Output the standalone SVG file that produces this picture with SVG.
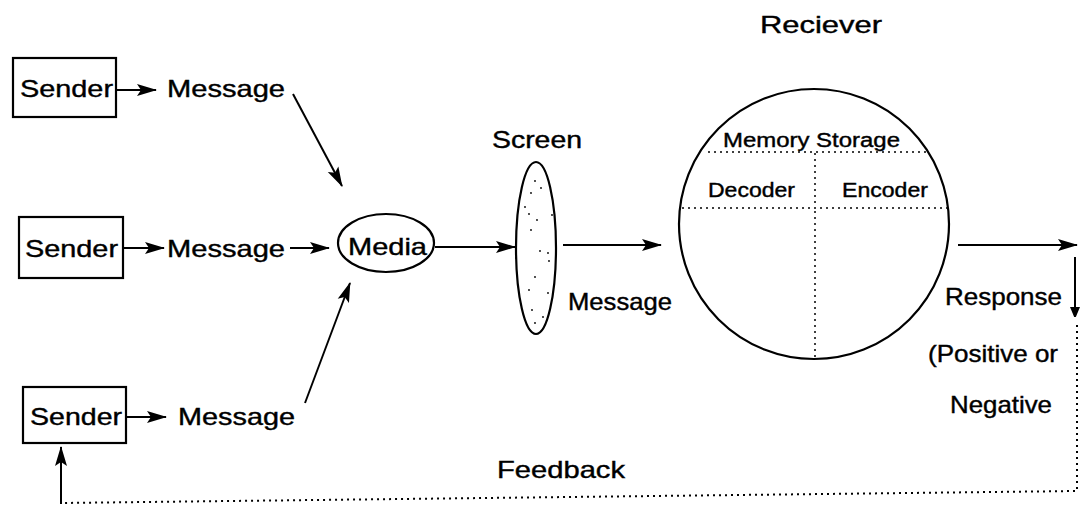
<svg xmlns="http://www.w3.org/2000/svg" width="1080" height="509" viewBox="0 0 1080 509">
<defs>
<style>
text{font-family:"Liberation Sans",Arial,sans-serif;fill:#000;stroke:#000;stroke-width:0.4}
.lbl{font-size:24px}
.sm{font-size:20px}
.box{fill:#fff;stroke:#000;stroke-width:2.2}
.ln{stroke:#000;stroke-width:2;fill:none}
.arr{stroke:#000;stroke-width:2;fill:none;marker-end:url(#ah)}
.dot{stroke:#000;stroke-width:2;fill:none;stroke-dasharray:2 4}
.dotf{stroke:#000;stroke-width:1.5;fill:none;stroke-dasharray:2 4}
</style>
<marker id="ah" markerUnits="userSpaceOnUse" markerWidth="20" markerHeight="14" refX="19" refY="7" orient="auto">
<path d="M0,1 L20,7 L0,13 L4,7 z" fill="#000"/>
</marker>
<marker id="ahs" markerUnits="userSpaceOnUse" markerWidth="10" markerHeight="14" refX="9" refY="5" orient="auto">
<path d="M0,0 L12,5 L0,10 z" fill="#000"/>
</marker>
</defs>
<g id="sender1">
<rect class="box" x="13" y="58" width="103" height="59"/>
<text class="lbl" x="20" y="97" textLength="93" lengthAdjust="spacingAndGlyphs">Sender</text>
</g>
<g id="message1"><text class="lbl" x="167" y="97" textLength="118" lengthAdjust="spacingAndGlyphs">Message</text></g>
<g id="sender2">
<rect class="box" x="19" y="217" width="104" height="61"/>
<text class="lbl" x="25" y="257" textLength="93" lengthAdjust="spacingAndGlyphs">Sender</text>
</g>
<g id="message2"><text class="lbl" x="167" y="257" textLength="118" lengthAdjust="spacingAndGlyphs">Message</text></g>
<g id="sender3">
<rect class="box" x="23" y="387" width="103" height="56"/>
<text class="lbl" x="30" y="425" textLength="92" lengthAdjust="spacingAndGlyphs">Sender</text>
</g>
<g id="message3"><text class="lbl" x="178" y="425" textLength="117" lengthAdjust="spacingAndGlyphs">Message</text></g>
<g id="media">
<ellipse class="box" cx="386" cy="243" rx="48" ry="29"/>
<text class="lbl" x="348" y="255" textLength="79" lengthAdjust="spacingAndGlyphs">Media</text>
</g>
<g id="screen">
<text class="lbl" x="492" y="148" textLength="90" lengthAdjust="spacingAndGlyphs">Screen</text>
<ellipse class="box" cx="536" cy="248" rx="20" ry="86"/>
<g fill="#000">
<circle cx="535" cy="181" r="0.9"/><circle cx="541" cy="188" r="0.9"/><circle cx="531" cy="193" r="0.9"/>
<circle cx="525" cy="207" r="0.9"/><circle cx="529" cy="214" r="0.9"/><circle cx="537" cy="220" r="0.9"/>
<circle cx="531" cy="230" r="0.9"/><circle cx="552" cy="215" r="0.9"/><circle cx="540" cy="251" r="0.9"/>
<circle cx="548" cy="253" r="0.9"/><circle cx="549" cy="261" r="0.9"/><circle cx="535" cy="277" r="0.9"/>
<circle cx="529" cy="290" r="0.9"/><circle cx="548" cy="293" r="0.9"/><circle cx="532" cy="310" r="0.9"/>
<circle cx="543" cy="317" r="0.9"/><circle cx="535" cy="323" r="0.9"/><circle cx="516" cy="258" r="0.9"/>
</g>
</g>
<g id="message4"><text class="lbl" x="568" y="310" textLength="104" lengthAdjust="spacingAndGlyphs">Message</text></g>
<g id="receiver">
<text class="lbl" x="760" y="33" textLength="122" lengthAdjust="spacingAndGlyphs">Reciever</text>
<circle class="box" cx="814" cy="224" r="135"/>
<line class="dotf" x1="708" y1="152" x2="927" y2="152"/>
<line class="dotf" x1="815" y1="153" x2="815" y2="205"/>
<line class="dotf" x1="682" y1="208" x2="948" y2="208"/>
<line class="dotf" x1="815" y1="211" x2="815" y2="358"/>
<text class="sm" x="723" y="147" textLength="177" lengthAdjust="spacingAndGlyphs">Memory Storage</text>
<text class="sm" x="708" y="197" textLength="87" lengthAdjust="spacingAndGlyphs">Decoder</text>
<text class="sm" x="842" y="197" textLength="86" lengthAdjust="spacingAndGlyphs">Encoder</text>
</g>
<g id="response">
<text class="lbl" x="945" y="305" textLength="117" lengthAdjust="spacingAndGlyphs">Response</text>
<text class="lbl" x="928" y="362" textLength="130" lengthAdjust="spacingAndGlyphs">(Positive or</text>
<text class="lbl" x="950" y="413" textLength="102" lengthAdjust="spacingAndGlyphs">Negative</text>
</g>
<g id="feedback"><text class="lbl" x="497" y="478" textLength="128" lengthAdjust="spacingAndGlyphs">Feedback</text></g>
<g id="connectors">
<line class="arr" x1="116" y1="90" x2="156" y2="90"/>
<line class="arr" x1="293" y1="94" x2="342" y2="186"/>
<line class="arr" x1="123" y1="248" x2="164" y2="248"/>
<line class="arr" x1="290" y1="248" x2="329" y2="248"/>
<line class="arr" x1="126" y1="417" x2="166" y2="417"/>
<line class="arr" x1="305" y1="403" x2="350" y2="283"/>
<line class="arr" x1="435" y1="247" x2="515" y2="247"/>
<line class="arr" x1="563" y1="245" x2="661" y2="245"/>
<line class="arr" x1="958" y1="245" x2="1077" y2="245"/>
<line class="ln" x1="1075" y1="257" x2="1075" y2="316" marker-end="url(#ahs)"/>
<polyline class="dot" points="1077,325 1077,491 61,503"/>
<line class="arr" x1="61" y1="504" x2="61" y2="447"/>
</g>
</svg>
